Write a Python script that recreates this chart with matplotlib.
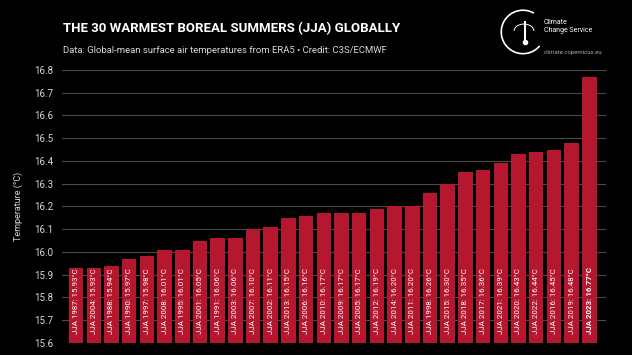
import matplotlib.pyplot as plt
from matplotlib.patches import Arc
import numpy as np

plt.rcParams['font.family'] = ['Roboto', 'DejaVu Sans']

# 30 warmest JJA seasons, ranked ascending
years = ["1987", "2004", "1988", "1990", "1997", "2008", "1995", "2001", "1991", "2003",
         "2007", "2002", "2013", "2006", "2010", "2009", "2005", "2012", "2014", "2011",
         "1998", "2015", "2018", "2017", "2021", "2020", "2022", "2016", "2019", "2023"]
temps = [15.93, 15.93, 15.94, 15.97, 15.98, 16.01, 16.01, 16.05, 16.06, 16.06,
         16.10, 16.11, 16.15, 16.16, 16.17, 16.17, 16.17, 16.19, 16.20, 16.20,
         16.26, 16.30, 16.35, 16.36, 16.39, 16.43, 16.44, 16.45, 16.48, 16.77]
yticks = [15.6, 15.7, 15.8, 15.9, 16.0, 16.1, 16.2, 16.3, 16.4, 16.5, 16.6, 16.7, 16.8]

bar_color = "#b5172f"
fg = "#d8d8d8"

fig = plt.figure(figsize=(6.32, 3.55), dpi=100, facecolor="black")
ax = fig.add_axes([0.098, 0.034, 0.861, 0.769], facecolor="black")

x = np.arange(len(years))
base = yticks[0]
ax.bar(x, np.array(temps) - base, bottom=base, width=0.82, color=bar_color, zorder=2)

for i, (yr, t) in enumerate(zip(years, temps)):
    last = i == len(years) - 1
    ax.text(i, base + 0.04, f"JJA {yr}: {t:.2f}°C", rotation=90, ha="center", va="bottom",
            color="white", fontsize=5.7, fontweight="bold" if last else "normal", zorder=3)

ax.set_xlim(-0.8, 29.95)
ax.set_ylim(15.6, 16.8)
ax.set_yticks(yticks)
ax.set_yticklabels([f"{v:.1f}" for v in yticks])
ax.set_xticks([])
ax.yaxis.grid(True, color="#4a4a4a", linewidth=0.8, zorder=0)
ax.set_axisbelow(True)
ax.tick_params(axis="y", length=0, colors=fg, labelsize=7, pad=6)
for s in ax.spines.values():
    s.set_visible(False)
ax.set_ylabel("Temperature (°C)", color=fg, fontsize=6.5, labelpad=8)

fig.text(0.1, 0.921, "THE 30 WARMEST BOREAL SUMMERS (JJA) GLOBALLY", color="white",
         fontsize=9.5, fontweight="bold", va="center")
fig.text(0.1, 0.859, "Data: Global-mean surface air temperatures from ERA5 • Credit: C3S/ECMWF",
         color=fg, fontsize=6.8, va="center")

# Copernicus logo (simplified)
lax = fig.add_axes([0.79, 0.835, 0.075, 0.15], facecolor="black")
lax.set_xlim(-1.2, 1.2)
lax.set_ylim(-1.2, 1.2)
lax.set_aspect("equal")
lax.axis("off")
lax.add_patch(Arc((0, 0), 2.2, 2.2, theta1=60, theta2=320, color="white", lw=1.2))
lax.add_patch(Arc((0.05, 0.05), 1.0, 0.7, theta1=0, theta2=180, color="white", lw=0.7))
lax.plot([0.1, 0.1], [-0.45, 0.5], color="white", lw=1.5)
lax.plot(0.1, -0.5, "o", color="white", ms=3)
fig.text(0.86, 0.925, "Climate\nChange Service", color="white", fontsize=5, va="center",
         linespacing=1.2)
fig.text(0.86, 0.852, "climate.copernicus.eu", color="#aaaaaa", fontsize=4.3, va="center")

fig.savefig("out.png", dpi=100, facecolor="black")
